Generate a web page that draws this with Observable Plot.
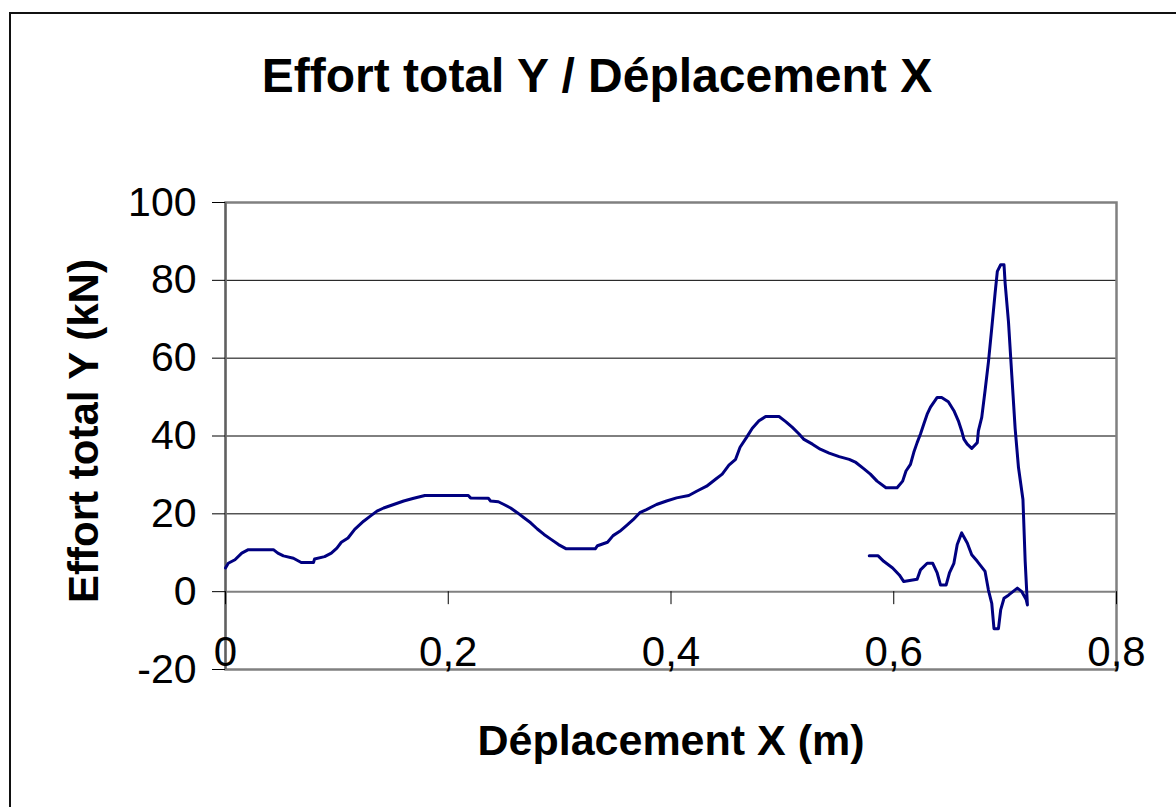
<!DOCTYPE html>
<html><head><meta charset="utf-8">
<script src="https://cdn.jsdelivr.net/npm/d3@7"></script>
<script src="https://cdn.jsdelivr.net/npm/@observablehq/plot@0.6"></script>
<style>
body{margin:0;background:#fff;}
#wrap{position:relative;width:1176px;height:807px;overflow:hidden;}
#border{position:absolute;left:9px;top:12px;width:1300px;height:900px;border-left:2px solid #111;border-top:2px solid #111;pointer-events:none;}
#wrap svg{position:absolute;left:0;top:0;}
</style></head><body><div id="wrap"><div id="border"></div></div>
<script>
// Loading path (displacement X in m, total force Y in kN)
const loadX = [0, 0.0025, 0.0085, 0.0146, 0.0205, 0.043, 0.047, 0.052, 0.061, 0.068, 0.079, 0.080, 0.089, 0.095, 0.100, 0.104, 0.110, 0.116, 0.124, 0.130, 0.136, 0.142, 0.151, 0.160, 0.169, 0.179, 0.218, 0.220, 0.236, 0.238, 0.245, 0.250, 0.256, 0.262, 0.268, 0.274, 0.280, 0.286, 0.292, 0.299, 0.306, 0.332, 0.334, 0.343, 0.348, 0.354, 0.360, 0.366, 0.372, 0.378, 0.387, 0.396, 0.405, 0.416, 0.423, 0.432, 0.440, 0.446, 0.452, 0.458, 0.462, 0.468, 0.473, 0.479, 0.485, 0.497, 0.503, 0.509, 0.515, 0.519, 0.527, 0.534, 0.542, 0.551, 0.560, 0.566, 0.573, 0.579, 0.585, 0.593, 0.603, 0.608, 0.611, 0.615, 0.618, 0.621, 0.624, 0.627, 0.630, 0.633, 0.639, 0.643, 0.649, 0.654, 0.658, 0.661, 0.663, 0.666, 0.670, 0.675, 0.676, 0.679, 0.682, 0.685, 0.688, 0.691, 0.693, 0.696, 0.699, 0.700, 0.703, 0.706, 0.709, 0.712, 0.716, 0.718, 0.720];
const loadY = [6.1, 7.3, 8.2, 9.9, 10.8, 10.8, 9.9, 9.2, 8.6, 7.5, 7.5, 8.4, 9.0, 9.9, 11.2, 12.7, 13.8, 16.0, 18.1, 19.4, 20.7, 21.5, 22.4, 23.3, 24.0, 24.7, 24.7, 24.1, 24.0, 23.3, 23.1, 22.4, 21.5, 20.3, 19.0, 17.7, 16.1, 14.7, 13.5, 12.1, 11.0, 11.0, 11.8, 12.7, 14.4, 15.5, 17.0, 18.5, 20.3, 21.1, 22.4, 23.3, 24.1, 24.7, 25.8, 27.1, 28.9, 30.2, 32.5, 34.0, 37.1, 39.7, 42.0, 43.9, 45.0, 45.0, 43.7, 42.2, 40.5, 39.2, 37.9, 36.6, 35.6, 34.7, 34.0, 33.2, 31.6, 30.2, 28.4, 26.7, 26.7, 28.4, 31.0, 32.7, 35.8, 38.3, 40.5, 43.1, 45.6, 47.4, 49.9, 49.9, 48.8, 46.5, 43.9, 41.3, 39.2, 37.9, 36.8, 38.3, 41.3, 44.8, 51.7, 59.0, 67.7, 76.7, 82.3, 84.0, 84.0, 79.3, 69.4, 55.6, 41.9, 31.9, 23.7, 7.8, -3.4];
// Return path
const returnX = [0.719, 0.715, 0.711, 0.703, 0.699, 0.696, 0.694, 0.690, 0.688, 0.685, 0.682, 0.675, 0.670, 0.666, 0.661, 0.657, 0.654, 0.650, 0.647, 0.642, 0.639, 0.635, 0.630, 0.624, 0.621, 0.609, 0.605, 0.599, 0.591, 0.586, 0.578];
const returnY = [-2.1, 0.0, 0.9, -0.9, -1.7, -4.7, -9.5, -9.5, -3.0, 0.4, 5.2, 7.8, 9.5, 12.5, 15.1, 12.1, 7.3, 4.8, 1.7, 1.7, 4.8, 7.3, 7.3, 5.6, 3.2, 2.6, 4.3, 6.1, 7.8, 9.2, 9.2];

const xTicks = [0, 0.2, 0.4, 0.6, 0.8];
const xTickLabels = ["0", "0,2", "0,4", "0,6", "0,8"];
const yTicks = [-20, 0, 20, 40, 60, 80, 100];
const title = "Effort total Y / Déplacement X";
const xLabel = "Déplacement X (m)";
const yLabel = "Effort total Y (kN)";

const data = [
  ...loadX.map((x, i) => ({x, y: loadY[i]})),
  ...returnX.map((x, i) => ({x, y: returnY[i]}))
];

const chart = Plot.plot({
  width: 1176, height: 807,
  marginLeft: 225, marginRight: 60, marginTop: 202, marginBottom: 138,
  style: {fontFamily: "'Liberation Sans', Arial, sans-serif", background: "transparent", color: "#000", overflow: "visible"},
  x: {domain: [0, 0.8]},
  y: {domain: [-20, 100]},
  marks: [
    Plot.gridY(yTicks.filter(v => v > 0 && v < 100), {stroke: "#000", strokeOpacity: 1, strokeWidth: 1}),
    Plot.ruleY([0], {stroke: "#808080", strokeWidth: 2}),
    Plot.frame({stroke: "#808080", strokeWidth: 2.5}),
    Plot.ruleX([0], {stroke: "#606060", strokeWidth: 2}),
    Plot.ruleX(xTicks, {y1: 0, y2: 0, insetBottom: -13, stroke: "#000", strokeWidth: 1}),
    Plot.axisY({ticks: yTicks, tickSize: 13, tickPadding: 16, fontSize: 41, label: null, tickFormat: d => String(d)}),
    Plot.axisX({ticks: xTicks, tickSize: 0, tickPadding: 0, dy: -33, fontSize: 42, label: null,
      tickFormat: d => xTickLabels[xTicks.indexOf(d)]}),
    Plot.line(data, {x: "x", y: "y", stroke: "#000080", strokeWidth: 3}),
    Plot.text([title], {frameAnchor: "top", lineAnchor: "middle", dx: -74, dy: -126, fontSize: 48, fontWeight: "bold"}),
    Plot.text([xLabel], {frameAnchor: "bottom", lineAnchor: "middle", dy: 72, fontSize: 43, fontWeight: "bold"}),
    Plot.text([yLabel], {frameAnchor: "left", lineAnchor: "middle", textAnchor: "middle", rotate: -90, dx: -141, dy: -5, fontSize: 42, fontWeight: "bold"})
  ]
});
document.getElementById("wrap").appendChild(chart);
</script>
</body></html>
